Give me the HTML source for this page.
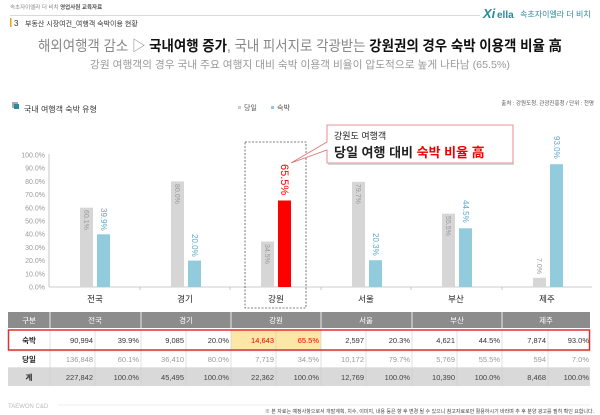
<!DOCTYPE html>
<html><head><meta charset="utf-8"><style>
body{margin:0;background:#fff}
svg{display:block;font-family:"Liberation Sans","Noto Sans CJK KR",sans-serif}
</style></head><body>
<svg width="600" height="415" viewBox="0 0 600 415">
<text x="10" y="9" font-size="5.5" fill="#888">속초자이엘라 더 비치 <tspan fill="#555" font-weight="bold">영업사원 교육자료</tspan></text>
<line x1="10" y1="15.5" x2="480" y2="15.5" stroke="#ccc" stroke-width="0.7"/>
<text x="483" y="18" font-size="13" font-weight="bold" fill="#2a8a9a" font-style="italic">Xi</text>
<text x="497" y="18" font-size="10" font-weight="bold" fill="#2a8a9a">ella</text>
<text x="520" y="17" font-size="8" fill="#2a8a9a">속초자이엘라 더 비치</text>
<rect x="10" y="18" width="1.5" height="9" fill="#e8a020"/>
<text x="14" y="26" font-size="8" fill="#333">3</text>
<text x="25" y="26" font-size="7" fill="#333">부동산 시장여건_여행객 숙박이용 현황</text>
<text x="38" y="51" font-size="14.5" textLength="524" lengthAdjust="spacingAndGlyphs" fill="#888">해외여행객 감소 ▷ <tspan fill="#111" font-weight="bold">국내여행 증가</tspan>, 국내 피서지로 각광받는 <tspan fill="#111" font-weight="bold">강원권의 경우 숙박 이용객 비율 高</tspan></text>
<text x="90" y="68" font-size="10.5" textLength="420" lengthAdjust="spacingAndGlyphs" fill="#999">강원 여행객의 경우 국내 주요 여행지 대비 숙박 이용객 비율이 압도적으로 높게 나타남 (65.5%)</text>
<rect x="12" y="102" width="6" height="6" fill="#aaa"/><rect x="14" y="104" width="5" height="5" fill="#2a8aa0"/>
<text x="24" y="112" font-size="8" fill="#333">국내 여행객 숙박 유형</text>
<rect x="238" y="106" width="3" height="3" fill="#ccc"/><text x="244" y="110" font-size="7" fill="#555">당일</text>
<rect x="271" y="106" width="3" height="3" fill="#8ecadb"/><text x="277" y="110" font-size="7" fill="#555">숙박</text>
<text x="594" y="105" font-size="5.5" text-anchor="end" fill="#555">출처 : 강원도청, 관광진흥청 / 단위 : 천명</text>
<g font-size="7" fill="#999" text-anchor="end">
<text x="45" y="157.5">100.0%</text><text x="45" y="170.7">90.0%</text><text x="45" y="183.9">80.0%</text><text x="45" y="197.1">70.0%</text><text x="45" y="210.3">60.0%</text><text x="45" y="223.5">50.0%</text><text x="45" y="236.7">40.0%</text><text x="45" y="249.9">30.0%</text><text x="45" y="263.1">20.0%</text><text x="45" y="276.3">10.0%</text><text x="45" y="289.5">0.0%</text>
</g>
<line x1="49" y1="154" x2="49" y2="287" stroke="#bbb" stroke-width="0.8"/>
<line x1="49" y1="287" x2="592" y2="287" stroke="#bbb" stroke-width="0.8"/>
<g stroke="#bbb" stroke-width="0.8"><line x1="140" y1="287" x2="140" y2="290"/><line x1="230" y1="287" x2="230" y2="290"/><line x1="321" y1="287" x2="321" y2="290"/><line x1="411" y1="287" x2="411" y2="290"/><line x1="502" y1="287" x2="502" y2="290"/></g>
<g fill="#d6d6d6">
<rect x="80" y="207.7" width="13" height="79.3"/><rect x="171" y="181.4" width="13" height="105.6"/><rect x="261" y="241.5" width="13" height="45.5"/><rect x="352" y="181.8" width="13" height="105.2"/><rect x="442" y="213.7" width="13" height="73.3"/><rect x="533" y="277.8" width="13" height="9.2"/>
</g>
<g fill="#92cbdb">
<rect x="97" y="234.3" width="13" height="52.7"/><rect x="188" y="260.6" width="13" height="26.4"/><rect x="369" y="260.2" width="13" height="26.8"/><rect x="459" y="228.3" width="13" height="58.7"/><rect x="550" y="164.2" width="13" height="122.8"/>
</g>
<rect x="278" y="200.5" width="13" height="86.5" fill="#f00"/>
<g font-size="7" fill="#999">
<text transform="translate(84,210) rotate(90)">60.1%</text>
<text transform="translate(175,184) rotate(90)">80.0%</text>
<text transform="translate(265,244) rotate(90)">34.5%</text>
<text transform="translate(356,184) rotate(90)">79.7%</text>
<text transform="translate(446,216) rotate(90)">55.5%</text>
<text transform="translate(537,258) rotate(90)">7.0%</text>
</g>
<g font-size="8" fill="#5aaac8">
<text transform="translate(101,208) rotate(90)">39.9%</text>
<text transform="translate(192,234) rotate(90)">20.0%</text>
<text transform="translate(373,233) rotate(90)">20.3%</text>
<text transform="translate(463,200) rotate(90)">44.5%</text>
<text transform="translate(554,136) rotate(90)">93.0%</text>
</g>
<text transform="translate(281,164) rotate(90)" font-size="11" fill="#f00">65.5%</text>
<g font-size="8.5" fill="#222" text-anchor="middle">
<text x="95" y="302">전국</text><text x="185" y="302">경기</text><text x="276" y="302">강원</text><text x="366" y="302">서울</text><text x="456" y="302">부산</text><text x="547" y="302">제주</text>
</g>
<rect x="245" y="142" width="61" height="166" fill="none" stroke="#555" stroke-width="0.8" stroke-dasharray="2,1.5"/>
<path d="M327,125 H513 V163 H327 V150 L291,163 L327,142 Z" fill="#fff" stroke="#e07070" stroke-width="0.8"/>
<line x1="328" y1="164" x2="514" y2="164" stroke="#ccc" stroke-width="1.5"/>
<text x="334" y="139" font-size="9" fill="#222">강원도 여행객</text>
<text x="334" y="157" font-size="13" font-weight="bold" fill="#222">당일 여행 대비 <tspan fill="#e00">숙박 비율 高</tspan></text>
<rect x="8" y="312" width="582" height="16" fill="#8c8c8c"/>
<rect x="8" y="368" width="582" height="18" fill="#d9d9d9"/>
<rect x="231" y="330" width="90" height="20" fill="#fde7a6"/>
<g stroke="#fff" stroke-width="0.8"><line x1="50" y1="312" x2="50" y2="328"/><line x1="141" y1="312" x2="141" y2="328"/><line x1="231" y1="312" x2="231" y2="328"/><line x1="321" y1="312" x2="321" y2="328"/><line x1="412" y1="312" x2="412" y2="328"/><line x1="502" y1="312" x2="502" y2="328"/></g>
<g stroke="#ccc" stroke-width="0.6">
<line x1="8" y1="351" x2="590" y2="351"/><line x1="8" y1="367.5" x2="590" y2="367.5"/>
<line x1="50" y1="330" x2="50" y2="386"/><line x1="95" y1="330" x2="95" y2="386"/><line x1="141" y1="330" x2="141" y2="386"/><line x1="186" y1="330" x2="186" y2="386"/><line x1="231" y1="330" x2="231" y2="386"/><line x1="276" y1="330" x2="276" y2="386"/><line x1="321" y1="330" x2="321" y2="386"/><line x1="366" y1="330" x2="366" y2="386"/><line x1="412" y1="330" x2="412" y2="386"/><line x1="457" y1="330" x2="457" y2="386"/><line x1="502" y1="330" x2="502" y2="386"/><line x1="548" y1="330" x2="548" y2="386"/>
</g>
<rect x="8.5" y="330" width="581" height="20" fill="none" stroke="#e03030" stroke-width="1.5"/>
<g font-size="7.5" fill="#fff" text-anchor="middle">
<text x="29" y="323">구분</text><text x="95" y="323">전국</text><text x="186" y="323">경기</text><text x="276" y="323">강원</text><text x="366" y="323">서울</text><text x="457" y="323">부산</text><text x="546" y="323">제주</text>
</g>
<g font-size="7.5" font-weight="bold" fill="#222" text-anchor="middle">
<text x="29" y="343">숙박</text><text x="29" y="362">당일</text><text x="29" y="380">계</text>
</g>
<g font-size="7.5" fill="#333" text-anchor="end">
<text x="93" y="343">90,994</text><text x="139" y="343">39.9%</text><text x="184" y="343">9,085</text><text x="229" y="343">20.0%</text><text x="364" y="343">2,597</text><text x="410" y="343">20.3%</text><text x="455" y="343">4,621</text><text x="500" y="343">44.5%</text><text x="546" y="343">7,874</text><text x="589" y="343">93.0%</text>
</g>
<g font-size="7.5" fill="#e00" text-anchor="end"><text x="274" y="343">14,643</text><text x="319" y="343">65.5%</text></g>
<g font-size="7.5" fill="#999" text-anchor="end">
<text x="93" y="362">136,848</text><text x="139" y="362">60.1%</text><text x="184" y="362">36,410</text><text x="229" y="362">80.0%</text><text x="274" y="362">7,719</text><text x="319" y="362">34.5%</text><text x="364" y="362">10,172</text><text x="410" y="362">79.7%</text><text x="455" y="362">5,769</text><text x="500" y="362">55.5%</text><text x="546" y="362">594</text><text x="589" y="362">7.0%</text>
</g>
<g font-size="7.5" fill="#444" text-anchor="end">
<text x="93" y="380">227,842</text><text x="139" y="380">100.0%</text><text x="184" y="380">45,495</text><text x="229" y="380">100.0%</text><text x="274" y="380">22,362</text><text x="319" y="380">100.0%</text><text x="364" y="380">12,769</text><text x="410" y="380">100.0%</text><text x="455" y="380">10,390</text><text x="500" y="380">100.0%</text><text x="546" y="380">8,468</text><text x="589" y="380">100.0%</text>
</g>
<text x="8" y="408" font-size="6" fill="#bbb">TAEWON C&amp;D</text>
<line x1="58" y1="405" x2="590" y2="405" stroke="#ddd" stroke-width="0.6"/>
<text x="594" y="413" font-size="5" text-anchor="end" fill="#444">※ 본 자료는 예정사항으로서 개발계획, 치수, 이미지, 내용 등은 향 후 변경 될 수 있으니 참고자료로만 활용하시기 바라며 추 후 분양 광고를 필히 확인 요합니다.</text>
</svg>
</body></html>
